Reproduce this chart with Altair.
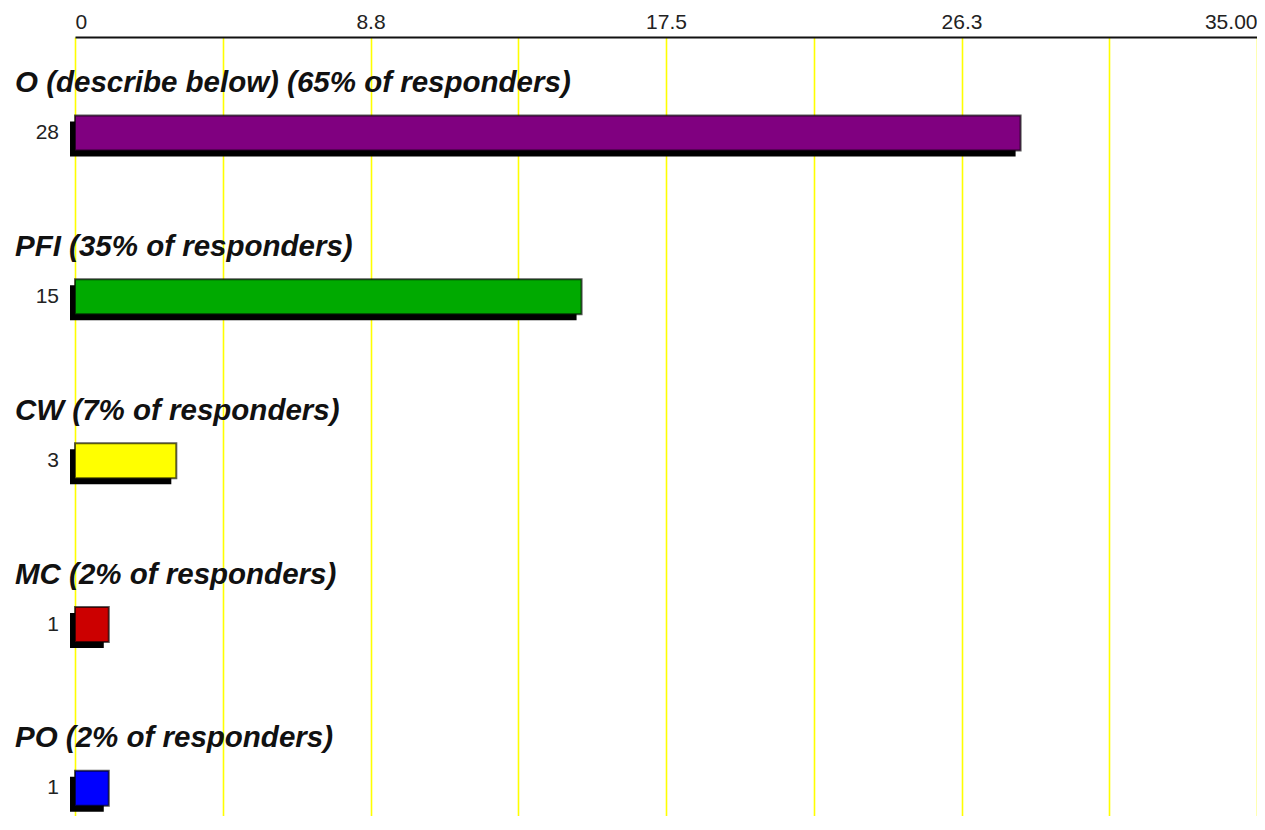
import altair as alt
import pandas as pd

categories = ["O (describe below)", "PFI", "CW", "MC", "PO"]
counts = [28, 15, 3, 1, 1]
percents = [65, 35, 7, 2, 2]
colors = ["#800080", "#00AA00", "#FFFF00", "#CC0000", "#0000FF"]

tick_values = [0, 8.75, 17.5, 26.25, 35]
tick_labels = ["0", "8.8", "17.5", "26.3", "35.00"]
grid_values = [i * 4.375 for i in range(9)]

df = pd.DataFrame({
    "cat": categories,
    "count": counts,
    "pct": percents,
    "row": list(range(len(categories))),
})
df["title"] = [f"{c} ({p}% of responders)" for c, p in zip(categories, percents)]
df["zero"] = 0

label_expr = " : ".join(
    f"datum.value == {v} ? '{l}'" for v, l in zip(tick_values, tick_labels)
) + " : ''"

FONT = "Liberation Sans"

xscale = alt.Scale(domain=[0, 35], nice=False, zero=True)
yscale = alt.Scale(domain=[-0.5, 4.193], reverse=True, nice=False, zero=False)

base = alt.Chart(df)

x_axis = alt.Axis(
    orient="top", values=grid_values, labelExpr=label_expr, grid=True,
    gridColor="#FFFF00", gridWidth=1.6, ticks=False, domainColor="#111111",
    domainWidth=2, labelFontSize=21, labelFont=FONT, labelColor="#222222",
    labelPadding=5, title=None, labelFlush=True,
)

shadow = base.mark_bar(orient="horizontal", size=35, color="black",
                       xOffset=-5, x2Offset=-5, yOffset=15).encode(
    x=alt.X("count:Q", scale=xscale, axis=x_axis),
    x2="zero:Q",
    y=alt.Y("row:Q", scale=yscale, axis=None),
)

bars = base.mark_bar(orient="horizontal", size=35, yOffset=9,
                     stroke="black", strokeWidth=2, strokeOpacity=0.65).encode(
    x=alt.X("count:Q", scale=xscale),
    x2="zero:Q",
    y=alt.Y("row:Q", scale=yscale),
    color=alt.Color("cat:N", scale=alt.Scale(domain=categories, range=colors), legend=None),
)

titles = base.mark_text(align="left", baseline="middle", dx=-60, dy=-41,
                        font=FONT, fontSize=29.5, fontWeight="bold",
                        fontStyle="italic", color="#111111").encode(
    x=alt.X("zero:Q", scale=xscale),
    y=alt.Y("row:Q", scale=yscale),
    text="title:N",
)

values = base.mark_text(align="right", baseline="middle", dx=-16, dy=9,
                        font=FONT, fontSize=21, color="#222222").encode(
    x=alt.X("zero:Q", scale=xscale),
    y=alt.Y("row:Q", scale=yscale),
    text="count:Q",
)

chart = alt.layer(shadow, bars, titles, values).properties(
    width=1182, height=779,
    padding={"left": 67, "top": 29, "right": 0, "bottom": 0},
    autosize="none",
).configure_view(stroke=None)

chart.save("out.html", embed_options={"renderer": "svg", "actions": False})
